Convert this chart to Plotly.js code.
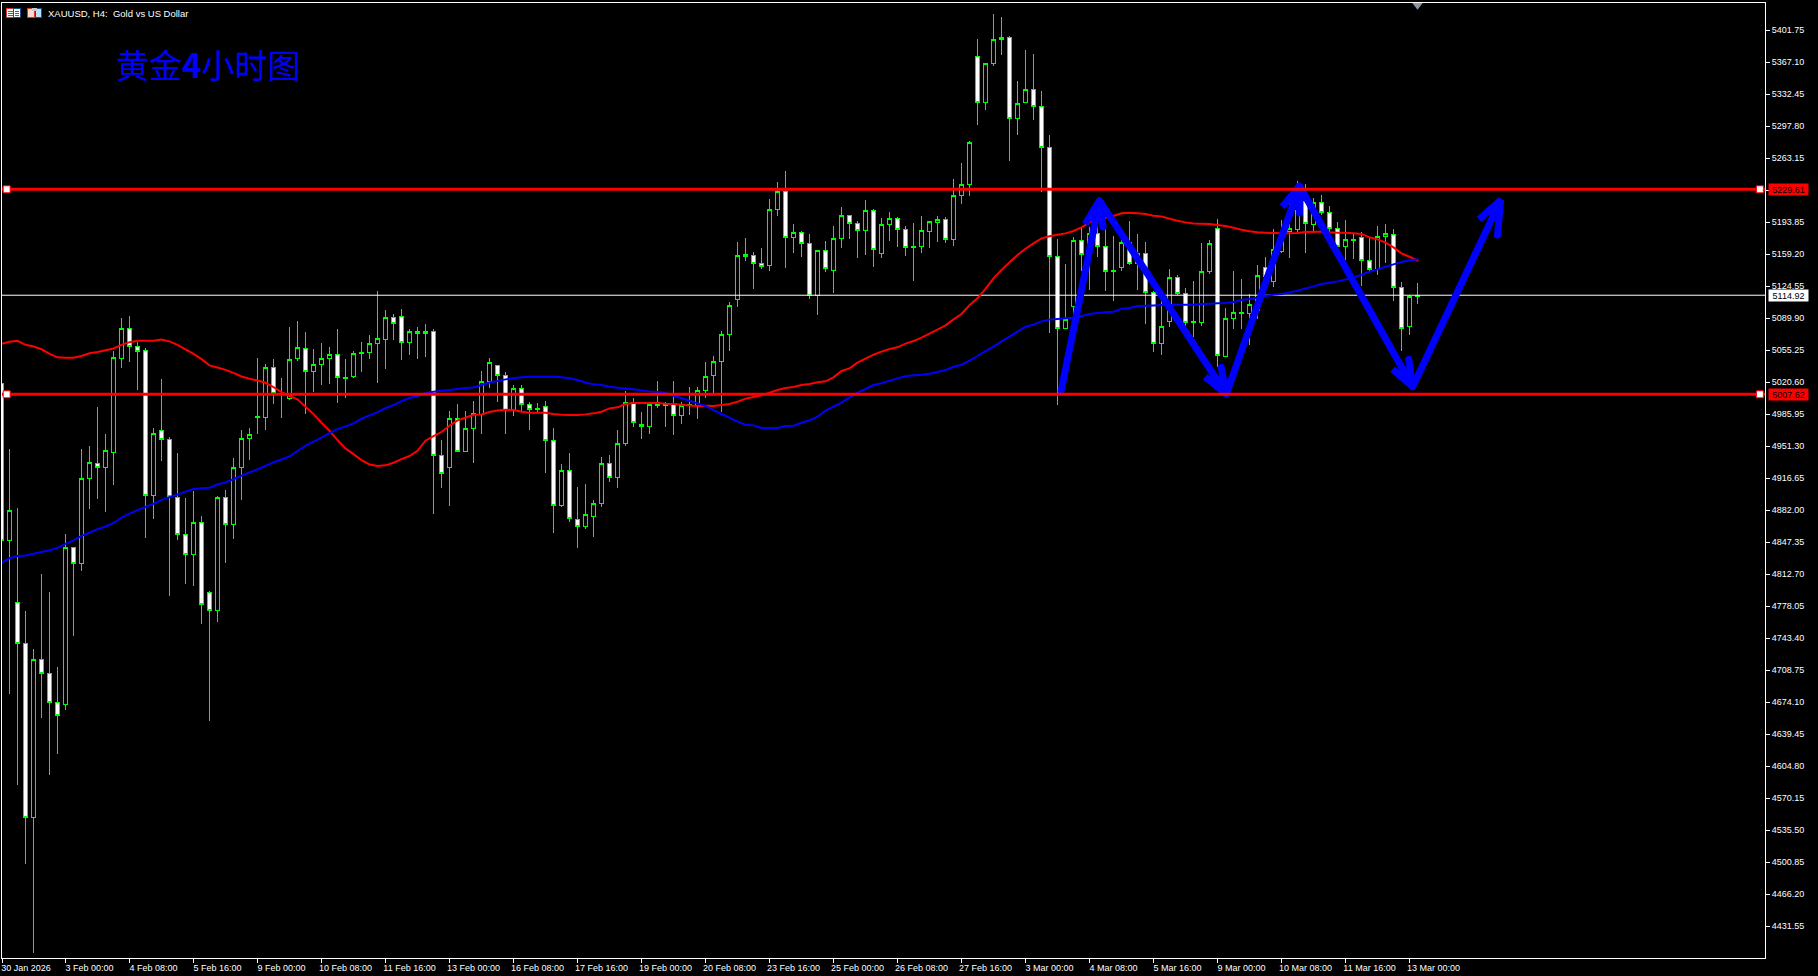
<!DOCTYPE html>
<html>
<head>
<meta charset="utf-8">
<script src="https://cdn.plot.ly/plotly-3.0.1.min.js"></script>
<style>
html,body{margin:0;padding:0;background:#000;overflow:hidden}
#chart{width:1818px;height:976px}
.boxlayer path{shape-rendering:crispEdges}
.scatterlayer .js-line{stroke-linecap:round}
</style>
</head>
<body>
<div id="chart"></div>
<script>
const opens=[5019.1,4849.5,4782.3,4737.3,4549.3,4720.4,4705.4,4674.0,4671.6,4841.7,4824.3,4916.7,4932.6,4928.3,4944.7,5046.2,5079.1,5059.3,5054.9,4897.8,4968.4,4958.7,4895.9,4855.8,4834.0,4868.8,4792.9,4773.6,4895.9,4866.4,4928.3,4959.7,4982.9,4982.4,5036.6,5007.5,5003.2,5046.2,
5057.4,5032.1,5039.7,5046.5,5050.9,5026.0,5026.7,5051.9,5052.7,5062.8,5067.1,5090.9,5092.0,5063.5,5075.8,5073.2,5075.8,4941.5,4928.1,4981.6,4945.5,4970.7,4986.2,5021.6,5039.0,5028.1,4990.6,5014.0,4996.7,4991.3,4994.6,4957.7,4887.7,4925.2,4872.2,4864.2,4875.1,4889.5,4932.8,4917.7,4954.5,4998.9,4975.1,4972.5,4995.6,4996.7,4996.7,4984.4,4995.2,4996.0,
5011.6,5027.8,5043.3,5072.6,5110.5,5157.0,5158.1,5149.5,5146.9,5207.9,5227.4,5177.3,5183.0,5171.1,5114.8,5163.5,5141.9,5176.5,5201.4,5192.8,5185.2,5206.9,5160.3,5191.7,5198.2,5186.3,5166.8,5167.9,5184.1,5193.9,5197.1,5175.5,5223.1,
5234.6,5373.6,5323.4,5365.6,5392.0,5394.2,5306.1,5323.4,5337.9,5319.1,5275.4,5157.0,5078.7,5102.5,5174.3,
5160.2,5181.9,5167.8,5140.4,5144.7,5172.2,5149.4,5160.2,5118.0,5062.8,5086.2,5134.3,5116.6,5085.2,5085.5,5140.4,5187.7,5048.3,5089.9,5095.3,5094.9,5098.9,5144.7,5129.6,5162.8,5183.7,5186.6,5216.2,5191.7,5215.5,5204.3,5187.0,5167.5,5174.7,5177.6,5152.7,5142.9,5178.3,5180.8,5123.4,5080.8,5114.0];
const highs=[5019.1,4948.6,4884.3,4773.1,4732.0,4813.2,4793.4,4712.2,4856.3,4841.7,4948.6,4951.5,4994.0,4964.5,5054.4,5090.2,5092.6,5064.6,5058.3,4971.3,5024.0,4961.6,4944.2,4895.4,4903.1,4876.0,4794.9,4897.3,4904.1,4938.4,4968.9,4971.3,5046.7,5040.9,5045.7,5025.4,5080.5,5086.8,
5075.1,5056.6,5062.8,5058.4,5078.3,5045.8,5054.5,5064.2,5071.8,5119.5,5098.9,5094.5,5100.0,5078.3,5080.5,5083.7,5078.3,4958.1,4989.5,4997.1,4989.5,5000.3,5032.8,5046.9,5039.0,5031.7,5017.7,5017.7,4999.2,4998.2,5000.3,4971.1,4932.1,4944.0,4907.2,4910.4,4893.1,4939.7,4941.8,4968.9,5011.2,5003.6,4988.4,4999.2,5022.0,4999.6,5022.0,4998.9,5015.5,5015.9,
5042.6,5049.1,5076.2,5107.6,5172.6,5176.9,5161.7,5166.1,5218.8,5237.5,5249.5,5192.1,5184.1,5181.2,5163.5,5173.6,5189.9,5210.8,5201.4,5194.9,5218.0,5208.3,5198.6,5205.1,5199.3,5189.9,5193.1,5200.7,5194.9,5200.7,5199.3,5240.8,5258.1,
5281.9,5392.4,5366.0,5419.4,5416.2,5395.6,5346.9,5380.4,5376.1,5336.0,5288.4,5175.8,5148.7,5177.9,5187.7,
5189.1,5196.3,5187.3,5179.4,5176.5,5195.3,5181.2,5172.5,5119.8,5113.3,5143.6,5136.8,5122.7,5130.3,5171.4,5174.7,5197.1,5100.7,5141.1,5132.5,5116.2,5147.3,5155.9,5186.2,5196.3,5214.4,5238.6,5235.0,5219.8,5223.4,5211.5,5194.5,5196.0,5181.9,5183.0,5178.3,5189.9,5192.0,5186.2,5128.8,5115.1,5128.1];
const lows=[4843.7,4682.7,4585.0,4499.5,4402.8,4657.1,4595.7,4618.0,4665.3,4745.6,4816.1,4883.8,4894.4,4880.4,4909.9,5035.6,5042.8,5012.4,4852.4,4872.7,4935.5,4789.0,4849.5,4802.1,4800.2,4759.1,4654.2,4761.5,4824.8,4850.9,4893.0,4936.5,4964.5,4968.9,4996.9,4982.4,5001.7,5043.8,
4986.2,5010.1,5017.3,5018.7,4998.2,5003.6,5025.6,5031.7,5045.8,5019.8,5035.0,5066.4,5044.7,5050.1,5045.8,5048.0,4877.9,4906.1,4886.6,4945.5,4945.5,4933.2,4964.6,5014.4,4998.9,4964.6,4984.1,4989.5,4968.9,4988.4,4922.4,4857.4,4885.5,4869.3,4841.1,4861.7,4853.0,4885.5,4912.6,4906.1,4951.6,4972.2,4959.2,4964.6,4992.7,4972.2,4963.5,4975.4,4985.2,4980.8,
5003.6,5008.7,4988.5,5054.9,5102.5,5152.3,5122.0,5143.7,5141.2,5201.1,5144.8,5160.7,5156.3,5111.2,5093.9,5140.4,5117.3,5166.1,5175.8,5155.2,5158.5,5145.5,5155.2,5173.6,5167.1,5157.4,5130.3,5160.7,5166.1,5172.6,5171.5,5168.2,5213.7,
5222.3,5299.2,5315.5,5363.1,5375.0,5260.6,5288.4,5323.4,5304.6,5227.0,5074.3,4996.0,5078.7,5088.8,5141.5,
5120.5,5155.9,5119.8,5109.0,5140.7,5147.6,5120.5,5083.7,5053.8,5050.1,5080.8,5115.1,5080.8,5070.0,5081.9,5137.9,5037.5,5048.3,5077.9,5078.7,5061.0,5088.8,5120.5,5124.1,5160.2,5155.2,5183.7,5161.0,5181.9,5201.8,5178.3,5156.6,5153.0,5154.1,5125.2,5140.4,5136.8,5149.4,5108.6,5054.5,5071.8,5105.4];
const closes=[4849.5,4881.9,4737.3,4549.3,4720.4,4705.4,4674.0,4660.0,4841.3,4824.3,4916.7,4934.1,4928.3,4946.6,5047.7,5079.1,5059.8,5054.0,4897.8,4965.5,4958.7,4896.8,4855.8,4834.0,4868.8,4779.9,4773.6,4895.9,4866.9,4928.3,4959.7,4964.0,4983.9,5037.0,5008.0,5008.5,5045.7,5058.3,
5032.1,5040.0,5046.5,5050.9,5026.0,5024.9,5051.9,5053.0,5062.8,5068.2,5090.9,5084.4,5063.5,5075.8,5073.2,5075.8,4941.5,4922.0,4981.6,4945.5,4970.7,4987.0,5021.6,5042.2,5028.1,4990.6,5014.0,4996.7,4991.3,4992.4,4957.4,4887.3,4925.2,4872.9,4864.2,4877.6,4889.5,4932.8,4917.7,4954.5,4998.9,4976.9,4972.5,4996.7,4996.7,4995.6,4984.4,4995.6,4996.4,5011.9,
5027.1,5043.3,5072.6,5104.0,5158.1,5158.5,5149.5,5146.2,5207.9,5227.4,5177.3,5183.0,5171.1,5114.8,5163.5,5144.0,5176.5,5201.4,5192.8,5185.2,5206.9,5164.6,5191.7,5198.2,5186.3,5166.8,5167.9,5185.2,5194.9,5197.1,5175.5,5223.1,5235.0,
5280.5,5323.4,5366.0,5392.0,5394.2,5306.1,5322.7,5337.9,5319.1,5274.7,5156.6,5078.7,5088.8,5174.3,5158.8,
5181.9,5167.5,5140.8,5141.5,5172.2,5149.1,5160.2,5118.0,5062.8,5081.2,5134.3,5116.6,5085.5,5086.6,5140.8,5171.4,5049.4,5089.9,5096.4,5096.4,5105.0,5136.4,5135.0,5163.9,5172.9,5187.0,5207.2,5192.4,5215.5,5204.3,5187.0,5168.2,5175.4,5175.8,5152.7,5142.9,5178.3,5181.5,5123.4,5079.0,5113.7,5114.92];
const redMA=[5062.2,5064.6,5065.6,5061.2,5059.3,5056.4,5051.5,5047.7,5047.2,5047.2,5049.1,5052.0,5053.5,5055.4,5057.3,5061.2,5064.1,5065.6,5065.6,5065.6,5067.0,5065.0,5061.2,5056.4,5051.5,5045.7,5039.0,5036.6,5034.1,5030.8,5026.9,5024.5,5022.5,5020.1,5015.3,5010.0,5005.6,5002.2,
4994.2,4986.2,4976.9,4968.2,4958.1,4949.1,4942.9,4936.4,4931.7,4929.9,4930.7,4933.5,4937.5,4940.8,4946.5,4957.4,4962.4,4966.8,4973.6,4979.4,4982.3,4985.5,4985.9,4988.4,4990.2,4990.9,4990.6,4988.8,4987.7,4987.7,4987.7,4986.2,4985.5,4985.2,4985.2,4985.9,4987.0,4988.8,4992.4,4993.5,4997.1,4998.2,4998.2,4998.2,4998.2,4997.4,4997.1,4996.4,4995.6,4994.9,
4995.3,4995.0,4996.0,4997.1,4999.6,5002.9,5004.7,5006.5,5009.4,5012.3,5014.4,5015.5,5017.7,5018.8,5020.6,5021.7,5026.0,5032.9,5035.7,5041.9,5046.2,5050.5,5053.8,5056.7,5058.5,5062.5,5065.3,5069.0,5073.3,5077.6,5082.3,5088.8,5094.6,5104.0,5111.6,5121.7,5133.2,5142.2,5150.5,5158.5,5165.3,5171.1,5176.5,5178.7,5180.5,5181.9,5184.5,5188.4,
5193.5,5196.7,5198.9,5200.7,5203.6,5204.3,5203.6,5202.8,5201.0,5200.3,5197.8,5195.6,5193.8,5192.7,5192.4,5192.0,5190.9,5189.9,5188.0,5185.9,5184.1,5183.0,5182.6,5182.3,5181.9,5181.9,5182.3,5183.4,5183.7,5183.7,5183.0,5182.6,5182.6,5181.9,5181.2,5177.6,5175.4,5171.8,5166.7,5160.2,5156.6,5152.3];
const blueMA=[4825.3,4830.1,4832.5,4833.0,4835.0,4836.9,4838.8,4841.3,4845.6,4849.5,4854.3,4857.7,4861.6,4864.5,4868.3,4874.1,4878.5,4882.3,4885.7,4889.1,4893.4,4896.3,4899.2,4902.2,4905.1,4906.0,4906.5,4909.9,4912.3,4915.7,4919.6,4923.0,4926.3,4930.2,4934.1,4937.0,4940.4,4946.2,
4952.0,4956.3,4960.6,4965.7,4970.0,4972.9,4976.1,4981.2,4984.8,4988.4,4992.7,4996.0,5000.3,5003.6,5005.7,5009.0,5010.4,5011.5,5012.2,5013.3,5014.4,5015.1,5017.7,5020.5,5022.0,5023.8,5024.9,5026.0,5026.7,5026.7,5026.7,5026.7,5026.0,5024.9,5023.1,5020.5,5018.4,5017.7,5015.8,5014.8,5014.0,5013.0,5011.9,5010.8,5010.1,5009.4,5005.7,5003.6,5000.7,4997.8,
4995.0,4990.6,4986.3,4982.3,4978.0,4974.7,4974.0,4971.1,4971.1,4971.1,4973.3,4973.7,4976.9,4979.4,4983.4,4989.9,4994.2,4998.6,5004.3,5009.4,5013.4,5017.7,5019.5,5022.4,5024.9,5027.1,5028.2,5028.9,5030.0,5031.8,5033.9,5037.5,5039.7,5044.0,5049.1,5054.5,5059.2,5065.0,5070.0,5075.5,5080.9,5083.0,5086.6,5088.5,5089.2,5089.9,5090.6,5092.4,
5094.5,5095.6,5096.4,5097.1,5100.3,5101.0,5103.2,5103.6,5103.9,5104.3,5104.3,5104.7,5104.7,5104.7,5105.4,5105.7,5106.1,5106.5,5107.5,5109.7,5110.8,5112.2,5114.0,5115.5,5116.2,5118.0,5119.8,5122.3,5124.5,5127.0,5128.5,5129.9,5132.1,5134.3,5137.1,5140.4,5142.9,5145.8,5148.3,5150.9,5152.7,5153.8];
const levelHigh=5229.61, levelLow=5007.62, lastPrice=5114.92;
const xTickLabels=["30 Jan 2026","3 Feb 00:00","4 Feb 08:00","5 Feb 16:00","9 Feb 00:00","10 Feb 08:00","11 Feb 16:00","13 Feb 00:00","16 Feb 08:00","17 Feb 16:00","19 Feb 00:00","20 Feb 08:00","23 Feb 16:00","25 Feb 00:00","26 Feb 08:00","27 Feb 16:00","3 Mar 00:00","4 Mar 08:00","5 Mar 16:00","9 Mar 00:00","10 Mar 08:00","11 Mar 16:00","13 Mar 00:00"];
const xTickBars=[0.0625,8,16,24,32,40,48,56,64,72,80,88,96,104,112,120,128,136,144,152,160,168,176];
const yTicks=[5401.75,5367.10,5332.45,5297.80,5263.15,5228.50,5193.85,5159.20,5124.55,5089.90,5055.25,5020.60,4985.95,4951.30,4916.65,4882.00,4847.35,4812.70,4778.05,4743.40,4708.75,4674.10,4639.45,4604.80,4570.15,4535.50,4500.85,4466.20,4431.55];
const arrow1X=[132.46,137.25,135.46,137.25,137.7], arrow1Y=[5011.5,5217.3,5192.0,5217.3,5188.8];
const arrow2X=[137.25,153.1,150.46,153.1,152.46], arrow2Y=[5217.3,5007.9,5026.7,5007.9,5036.8];
const arrow3X=[153.1,162.25,160.1,162.25,162.25], arrow3Y=[5007.9,5233.2,5210.8,5233.2,5203.9];
const arrow4X=[162.25,176.4,173.9,176.4,175.9], arrow4Y=[5233.2,5015.8,5035.0,5015.8,5045.5];
const arrow5X=[176.4,187.4,184.7,187.4,187.0], arrow5Y=[5015.8,5218.0,5197.1,5218.0,5180.1];
const xSpan=[0.0625,220.4375];
const handleX=[0.65,219.8];
const shiftMarkX=[177], shiftMarkY=[5429.0];

const W=1818,H=976,ML=2,MR=53,MT=3,MB=18;
const bars=opens.map((_,i)=>i);
const FONT='"Liberation Sans", Arial, sans-serif';
const GREEN='#00ff00';
const px=x=>(x-ML)/(W-ML-MR), py=y=>1-(y-MT)/(H-MT-MB);

const lineTrace=(x,y,color,width)=>({type:'scatter',mode:'lines',x,y,hoverinfo:'skip',showlegend:false,
  line:{color,width,simplify:false}});
const arrow=(x,y)=>lineTrace(x,y,'#0000ff',7);
const level=(y,color,width)=>lineTrace(xSpan,[y,y],color,width);
const traces=[
 {type:'candlestick',x:bars,open:opens,high:highs,low:lows,close:closes,hoverinfo:'skip',showlegend:false,
  increasing:{line:{color:GREEN,width:1},fillcolor:'#000000'},
  decreasing:{line:{color:GREEN,width:1},fillcolor:'#ffffff'}},
 level(lastPrice,'#ffffff',1),
 lineTrace(bars,redMA,'#ff0000',2),
 lineTrace(bars,blueMA,'#0000ff',2),
 arrow(arrow1X,arrow1Y),arrow(arrow2X,arrow2Y),arrow(arrow3X,arrow3Y),arrow(arrow4X,arrow4Y),arrow(arrow5X,arrow5Y),
 level(levelHigh,'#ff0000',3),
 level(levelLow,'#ff0000',3),
 {type:'scatter',mode:'markers',x:handleX.concat(handleX),y:[levelHigh,levelHigh,levelLow,levelLow],hoverinfo:'skip',showlegend:false,
  marker:{symbol:'square',size:7,color:'#ffffff',line:{color:'#ff0000',width:1}}},
 {type:'scatter',mode:'markers',x:shiftMarkX,y:shiftMarkY,hoverinfo:'skip',showlegend:false,cliponaxis:false,
  marker:{symbol:'triangle-down',size:9,color:'#8a98a6',line:{width:0}}}
];
const priceTag=(y,bg)=>({xref:'paper',x:1,xshift:3,xanchor:'left',yref:'y',y,yanchor:'middle',text:y.toFixed(2),showarrow:false,
  bgcolor:bg,width:39,height:11,borderpad:0,font:{family:FONT,size:9,color:'#000000'}});
const svg=s=>'data:image/svg+xml,'+encodeURIComponent('<svg xmlns="http://www.w3.org/2000/svg" width="15" height="10" viewBox="0 0 15 10" shape-rendering="crispEdges">'+s+'</svg>');
const icon1=svg('<rect x=".5" y=".5" width="7" height="9" fill="#fff" stroke="#e03020"/><rect x="7.5" y=".5" width="7" height="9" fill="#fff" stroke="#10508c"/><path d="M2 3h5M2 5h5M2 7h5" stroke="#e03020"/><path d="M9 3h4M9 5h4M9 7h4" stroke="#2070c0"/>');
const icon2=svg('<rect x=".5" y=".5" width="6.5" height="9" fill="#ffd8d0" stroke="#e03020"/><rect x="8" y=".5" width="6.5" height="9" fill="#b8e0ff" stroke="#10508c"/><rect x="5" y="0" width="5" height="3" fill="#c8c8c8"/>');
const layout={
 width:W,height:H,paper_bgcolor:'#000000',plot_bgcolor:'#000000',showlegend:false,hovermode:false,
 boxgap:0.5,boxgroupgap:0,
 margin:{l:ML,r:MR,t:MT,b:MB,pad:0},
 font:{family:FONT,size:9,color:'#ffffff'},
 xaxis:{type:'linear',range:xSpan,fixedrange:true,rangeslider:{visible:false},showgrid:false,zeroline:false,
  showline:true,linecolor:'#ffffff',linewidth:1,mirror:true,ticks:'outside',ticklen:4,tickcolor:'#ffffff',tickwidth:1,
  tickmode:'array',tickvals:xTickBars,ticktext:xTickLabels,tickangle:0,ticklabelshift:24,ticklabelstandoff:-3,tickfont:{family:FONT,size:9,color:'#ffffff'}},
 yaxis:{type:'linear',side:'right',range:[4397.27,5431.34],fixedrange:true,showgrid:false,zeroline:false,
  showline:true,linecolor:'#ffffff',linewidth:1,mirror:true,ticks:'outside',ticklen:4,tickcolor:'#ffffff',tickwidth:1,
  tickmode:'array',tickvals:yTicks,tickformat:'.2f',tickfont:{family:FONT,size:9,color:'#ffffff'}},
 annotations:[
  priceTag(levelHigh,'#ff0000'),priceTag(levelLow,'#ff0000'),priceTag(lastPrice,'#ffffff'),
  {xref:'paper',yref:'paper',x:px(46),y:py(13),xanchor:'left',yanchor:'middle',showarrow:false,text:'XAUUSD, H4:\u00a0\u00a0Gold vs US Dollar',font:{family:FONT,size:9.5,color:'#ffffff'}},
  {xref:'paper',yref:'paper',x:px(114),y:py(64),xanchor:'left',yanchor:'middle',showarrow:false,text:'黄金<b>4</b>小时图',font:{family:'"Noto Sans CJK SC"',size:33,color:'#0000ff'}}
 ],
 images:[
  {source:icon1,xref:'paper',yref:'paper',x:px(6),y:py(8),sizex:15/(W-ML-MR),sizey:10/(H-MT-MB),xanchor:'left',yanchor:'top',sizing:'stretch',layer:'above'},
  {source:icon2,xref:'paper',yref:'paper',x:px(27),y:py(8),sizex:15/(W-ML-MR),sizey:10/(H-MT-MB),xanchor:'left',yanchor:'top',sizing:'stretch',layer:'above'}
 ]
};
Plotly.newPlot('chart',traces,layout,{displayModeBar:false,staticPlot:true,responsive:false});
</script>
</body>
</html>
